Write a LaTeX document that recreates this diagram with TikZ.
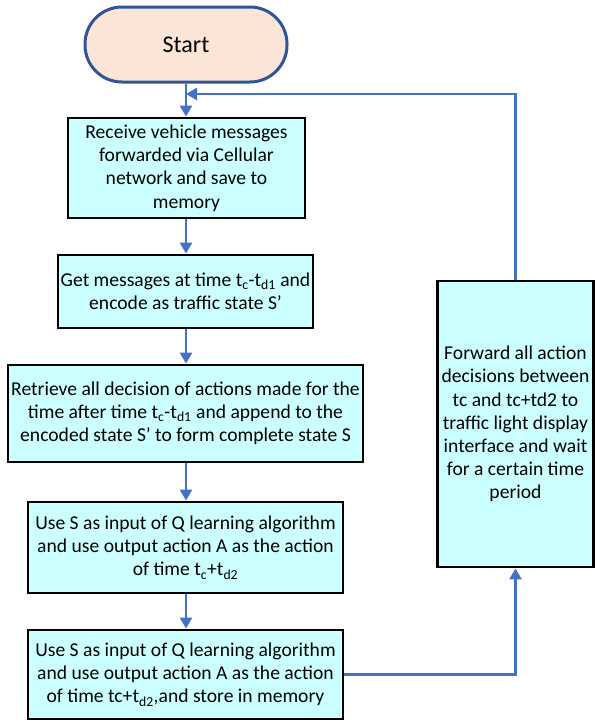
\documentclass[tikz,border=0pt]{standalone}
\usepackage{fontspec}
\setmainfont{Carlito}
\usetikzlibrary{arrows.meta}
\definecolor{boxfill}{HTML}{CCFFFF}
\definecolor{arrowblue}{HTML}{4472C4}
\definecolor{startfill}{HTML}{FBE5D6}
\definecolor{startborder}{HTML}{2F5597}
\tikzset{
  procbox/.style={draw=black, line width=2.8pt, fill=boxfill, align=center, inner sep=0pt,
    font=\fontsize{19.6}{23.2}\selectfont},
  termbox/.style={draw=startborder, line width=3pt, fill=startfill, rounded corners=37pt,
    inner sep=0pt, font=\fontsize{24}{28}\selectfont},
  flow/.style={draw=arrowblue, line width=2.6pt, -{Triangle[width=12pt,length=11pt]}},
}
\begin{document}
\begin{tikzpicture}[x=1pt,y=-1pt]
\useasboundingbox (0,0) rectangle (595,721);
\node[termbox, minimum width=202pt, minimum height=75pt] (start) at (186,44.5) {Start};
\node[procbox, minimum width=237pt, minimum height=100pt] (b1) at (186.5,168)
  {Receive vehicle messages\\forwarded via Cellular\\network and save to\\memory};
\node[procbox, minimum width=255pt, minimum height=73pt] (b2) at (185.5,291.5)
  {Get messages at time t\textsubscript{c}-t\textsubscript{d1} and\\encode as traffic state S’};
\node[procbox, minimum width=355pt, minimum height=97pt] (b3) at (185.5,413.5)
  {Retrieve all decision of actions made for the\\time after time t\textsubscript{c}-t\textsubscript{d1} and append to the\\encoded state S’ to form complete state S};
\node[procbox, minimum width=315pt, minimum height=91pt] (b4) at (185.5,547.5)
  {Use S as input of Q learning algorithm\\and use output action A as the action\\of time t\textsubscript{c}+t\textsubscript{d2}};
\node[procbox, minimum width=315pt, minimum height=89pt] (b5) at (185.5,674.5)
  {Use S as input of Q learning algorithm\\and use output action A as the action\\of time tc+t\textsubscript{d2},and store in memory};
\node[procbox, minimum width=156pt, minimum height=286pt] (fwd) at (515.5,424)
  {Forward all action\\decisions between\\tc and tc+td2 to\\traffic light display\\interface and wait\\for a certain time\\period};
\coordinate (j) at (186,94);
\draw[flow] (start.south -| 186,0) -- (b1.north -| 186,0);
\draw[flow] (b1.south -| 186,0) -- (b2.north -| 186,0);
\draw[flow] (b2.south -| 186,0) -- (b3.north -| 186,0);
\draw[flow] (b3.south -| 186,0) -- (b4.north -| 186,0);
\draw[flow] (b4.south -| 186,0) -- (b5.north -| 186,0);
\draw[flow] (b5.east) -| (fwd.south);
\draw[flow] (fwd.north) |- (j);
\end{tikzpicture}
\end{document}
